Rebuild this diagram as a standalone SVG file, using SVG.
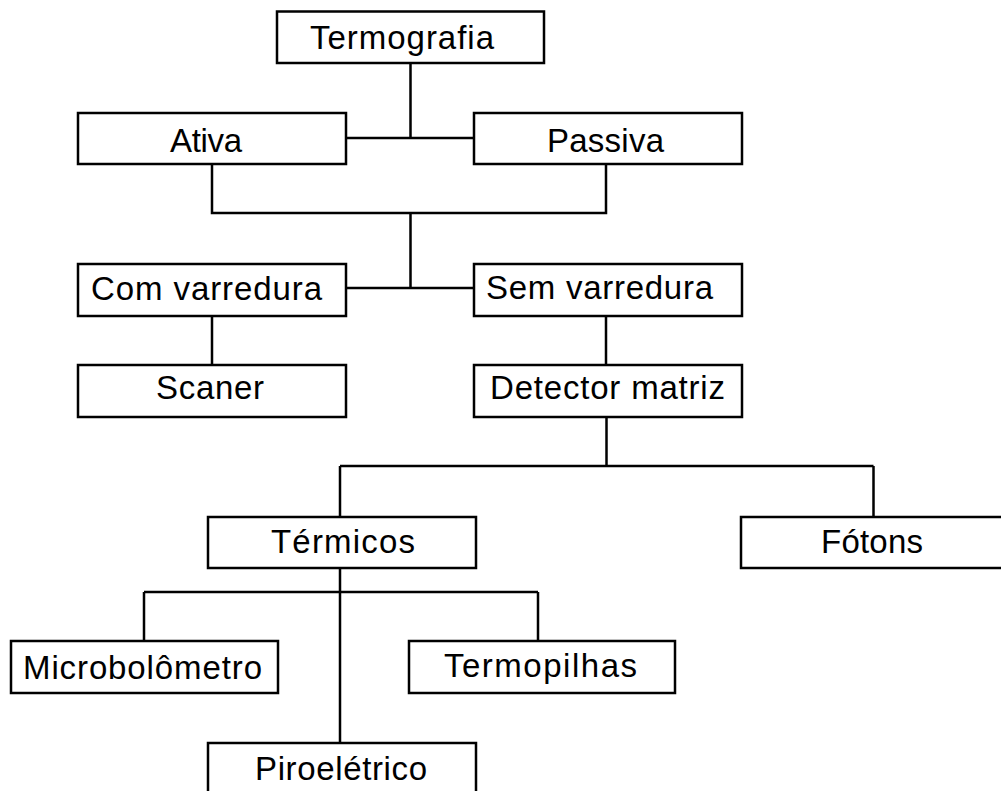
<svg xmlns="http://www.w3.org/2000/svg" width="1001" height="791" viewBox="0 0 1001 791">
<style>
.box{fill:#fff;stroke:#000;stroke-width:2.5}
.ln{fill:none;stroke:#000;stroke-width:2.5}
text{font-family:"Liberation Sans",Arial,sans-serif;font-size:33px;fill:#000}
</style>
<rect width="1001" height="791" fill="#fff"/>
<g id="connectors">
<path class="ln" d="M410.5 63V138M346 138H474"/>
<path class="ln" d="M212 164V213H606V164M410.5 213V288M346 288H474"/>
<path class="ln" d="M212 316V365M606 316V365"/>
<path class="ln" d="M606.5 417V466M340 466H873.5M340 466V517M873.5 466V517"/>
<path class="ln" d="M340 568V743M144 592H538M144 592V641M538 592V641"/>
</g>
<g id="termografia"><rect class="box" x="277" y="11.5" width="267" height="51.5"/><text x="310" y="49" textLength="184" lengthAdjust="spacing">Termografia</text></g>
<g id="ativa"><rect class="box" x="78" y="113" width="268" height="51"/><text x="170" y="152" textLength="72" lengthAdjust="spacing">Ativa</text></g>
<g id="passiva"><rect class="box" x="474" y="113" width="268" height="51"/><text x="547" y="152" textLength="117" lengthAdjust="spacing">Passiva</text></g>
<g id="com-varredura"><rect class="box" x="78" y="264" width="268" height="52"/><text x="91" y="300" textLength="231" lengthAdjust="spacing">Com varredura</text></g>
<g id="sem-varredura"><rect class="box" x="474" y="264" width="268" height="52"/><text x="486" y="299" textLength="227" lengthAdjust="spacing">Sem varredura</text></g>
<g id="scaner"><rect class="box" x="78" y="365" width="268" height="52"/><text x="156" y="399" textLength="108" lengthAdjust="spacing">Scaner</text></g>
<g id="detector-matriz"><rect class="box" x="474" y="365" width="268" height="52"/><text x="490" y="399" textLength="235" lengthAdjust="spacing">Detector matriz</text></g>
<g id="termicos"><rect class="box" x="208" y="517" width="268" height="51"/><text x="271" y="553" textLength="144" lengthAdjust="spacing">Térmicos</text></g>
<g id="fotons"><rect class="box" x="741" y="517" width="268" height="51"/><text x="821" y="553" textLength="102" lengthAdjust="spacing">Fótons</text></g>
<g id="microbolometro"><rect class="box" x="11" y="641" width="267" height="52"/><text x="23" y="679" textLength="239" lengthAdjust="spacing">Microbolômetro</text></g>
<g id="termopilhas"><rect class="box" x="409" y="641" width="266" height="52"/><text x="444" y="677" textLength="193" lengthAdjust="spacing">Termopilhas</text></g>
<g id="piroeletrico"><rect class="box" x="208" y="743" width="268" height="60"/><text x="255" y="780" textLength="172" lengthAdjust="spacing">Piroelétrico</text></g>
</svg>
